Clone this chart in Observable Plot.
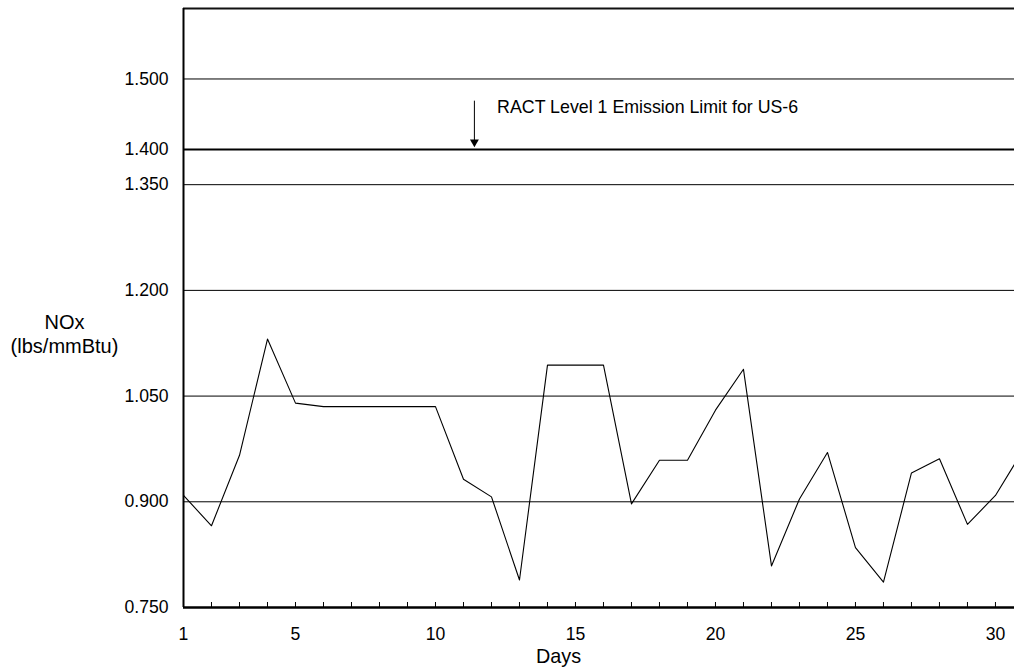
<!DOCTYPE html>
<html>
<head>
<meta charset="utf-8">
<script src="https://cdn.jsdelivr.net/npm/d3@7"></script>
<script src="https://cdn.jsdelivr.net/npm/@observablehq/plot@0.6"></script>
<style>
  html, body { margin: 0; padding: 0; background: #fff; overflow: hidden; }
</style>
</head>
<body>
<div id="chart"></div>
<script>
// ---- data ----
const days = d3.range(1, 32);
const nox = [0.909, 0.866, 0.966, 1.131, 1.040, 1.035, 1.035, 1.035, 1.035, 1.035,
             0.932, 0.907, 0.789, 1.094, 1.094, 1.094, 0.897, 0.959, 0.959, 1.030,
             1.088, 0.809, 0.904, 0.970, 0.835, 0.786, 0.941, 0.961, 0.868, 0.909, 0.974];
const yTicks = [0.75, 0.9, 1.05, 1.2, 1.35, 1.4, 1.5];
const gridValues = [0.9, 1.05, 1.2, 1.35, 1.5];
const limitValue = 1.4;
const xLabelTicks = [1, 5, 10, 15, 20, 25, 30];
const annotationText = "RACT Level 1 Emission Limit for US-6";
const arrowDay = 11.39;
const arrowTop = 1.4685;
const textDay = 12.2;
const textValue = 1.4595;

const data = days.map((d, i) => ({day: d, nox: nox[i]}));

const font = "'Liberation Sans', Arial, Helvetica, sans-serif";

const chart = Plot.plot({
  width: 1014,
  height: 671,
  marginLeft: 183,
  marginRight: 0,
  marginTop: 8,
  marginBottom: 64,
  style: {fontFamily: font, background: "#fff", overflow: "hidden"},
  x: {domain: [1, 30.68], axis: null},
  y: {domain: [0.75, 1.6], axis: null},
  marks: [
    // gridlines
    Plot.ruleY(gridValues, {stroke: "#000", strokeWidth: 1}),
    Plot.ruleY([limitValue], {stroke: "#000", strokeWidth: 2}),
    // frame: top, left, bottom
    Plot.ruleY([1.6], {stroke: "#111", strokeWidth: 2}),
    Plot.ruleX([1], {stroke: "#000", strokeWidth: 2}),
    // x ticks (inside)
    Plot.axisX({ticks: days, tickSize: 5, dy: -5, tickFormat: () => "", stroke: "#000", label: null}),
    Plot.ruleY([0.75], {stroke: "#000", strokeWidth: 2.5}),
    // x labels
    Plot.axisX({ticks: xLabelTicks, tickSize: 0, tickPadding: 20, fontSize: 17.6, tickFormat: d3.format("d"), fill: "#000", label: null}),
    // y labels
    Plot.axisY({ticks: yTicks, tickSize: 0, tickPadding: 15, fontSize: 17.6, tickFormat: d3.format(".3f"), fill: "#000", label: null}),
    // data line
    Plot.line(data, {x: "day", y: "nox", stroke: "#000", strokeWidth: 1.1, clip: true}),
    // annotation arrow
    Plot.ruleX([arrowDay], {y1: arrowTop, y2: limitValue + 0.012, stroke: "#000", strokeWidth: 1}),
    Plot.dot([arrowDay], {x: d => d, y: () => limitValue, symbol: "triangle", rotate: 180, r: 3.3, fill: "#000", stroke: null, dy: -7.4}),
    Plot.text([annotationText], {x: () => textDay, y: () => textValue, text: d => d, textAnchor: "start", lineAnchor: "middle", fontSize: 17.8, fill: "#000"}),
    // axis titles
    Plot.text(["NOx\n(lbs/mmBtu)"], {frameAnchor: "top-left", text: d => d, dx: -119, dy: 304, textAnchor: "middle", lineAnchor: "top", lineHeight: 1.17, fontSize: 20, fill: "#000"}),
    Plot.text(["Days"], {frameAnchor: "bottom-left", text: d => d, dx: 375, dy: 41, textAnchor: "middle", lineAnchor: "top", fontSize: 19.8, fill: "#000"})
  ]
});

document.getElementById("chart").appendChild(chart);
</script>
</body>
</html>
